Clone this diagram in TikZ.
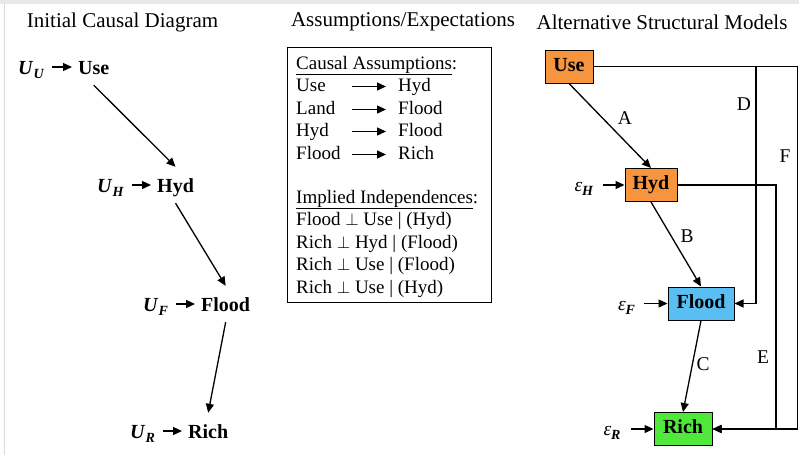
\documentclass[tikz,border=0pt]{standalone}
\usepackage{fontspec}
\setmainfont{Liberation Serif}
\usetikzlibrary{arrows.meta}
\newcommand{\Uv}[1]{\textbf{\textit{U}}\raisebox{-0.45ex}{\fontsize{14}{14}\selectfont\textbf{\textit{#1}}}}
\newcommand{\Ev}[1]{\textit{ε}\raisebox{-0.45ex}{\fontsize{14}{14}\selectfont\textbf{\textit{#1}}}}
\definecolor{orangeC}{RGB}{247,148,62}
\definecolor{blueC}{RGB}{90,190,242}
\definecolor{greenC}{RGB}{80,232,58}
\begin{document}
\begin{tikzpicture}[x=1pt,y=-1pt,
 arr/.style={line width=1.3pt,-{Triangle[length=9pt,width=8pt]}},
 ttl/.style={font=\fontsize{21}{24}\selectfont, inner sep=0},
 lbl/.style={font=\fontsize{20}{23}\selectfont\bfseries, inner sep=0, text height=25pt, text depth=11pt, anchor=west},
 txt/.style={font=\fontsize{19}{22}\selectfont, inner sep=0, anchor=west, text height=13pt, text depth=4pt},
 elbl/.style={font=\fontsize{19.5}{22}\selectfont, inner sep=0, text height=13pt, text depth=4pt},
 box/.style={draw, line width=1pt, font=\fontsize{20}{22}\selectfont\bfseries, minimum height=33pt, inner sep=0, text height=13pt, text depth=4pt},
]
\useasboundingbox (0,0) rectangle (799,455);
\fill[black!9] (0,0) rectangle (799,4);
\draw[black!15, line width=1pt] (4.5,4) -- (4.5,455);

% titles
\node[ttl] (t1) at (122.5,22) {Initial Causal Diagram};
\node[ttl] (t2) at (403,22) {Assumptions/Expectations};
\node[ttl] (t3) at (662,22) {Alternative Structural Models};

% left diagram
\node[lbl] (uu) at (18,67) {\Uv{U}};
\node[lbl] (use) at (78,67) {Use};
\node[lbl] (uh) at (97,185) {\Uv{H}};
\node[lbl] (hyd) at (157,185) {Hyd};
\node[lbl] (uf) at (143,304) {\Uv{F}};
\node[lbl] (flood) at (201,304) {Flood};
\node[lbl] (ur) at (130,431) {\Uv{R}};
\node[lbl] (rich) at (188,431) {Rich};
\foreach \a/\b in {uu/use,uh/hyd,uf/flood,ur/rich}
  \draw[arr, shorten <=8pt, shorten >=6pt] (\a.east) -- (\b.west);
\draw[arr] (use.south) -- (hyd.north);
\draw[arr] (hyd.south) -- (flood.north);
\draw[arr] (flood.south) -- (rich.north);

% middle box
\node[draw, line width=1pt, minimum width=204pt, minimum height=255pt, inner sep=0] (frame) at (389,174.5) {};
\node[txt] (h1) at (296,64.5) {\underline{Causal Assumptions}:};
\coordinate (ax) at (352,0);
\foreach \i/\y/\l/\r in {1/86.5/Use/Hyd, 2/109.5/Land/Flood, 3/131.5/Hyd/Flood, 4/154.5/Flood/Rich}{
  \node[txt] (l\i) at (296,\y) {\l};
  \node[txt] (r\i) at (398,\y) {\r};
  \draw[arr, shorten >=12pt] (r\i.west -| ax) -- (r\i.west);
}
\node[txt] (h2) at (296,198.5) {\underline{Implied Independences}:};
\node[txt] (i1) at (296,220.5) {Flood $\perp$ Use | (Hyd)};
\node[txt] (i2) at (296,243.5) {Rich $\perp$ Hyd | (Flood)};
\node[txt] (i3) at (296,265.5) {Rich $\perp$ Use | (Flood)};
\node[txt] (i4) at (296,288.5) {Rich $\perp$ Use | (Hyd)};

% right diagram
\node[box, fill=orangeC, minimum width=48pt] (use2) at (569,66.5) {Use};
\node[box, fill=orangeC, minimum width=52pt] (hyd2) at (651,185) {Hyd};
\node[box, fill=blueC, minimum width=66pt] (flood2) at (701,303.5) {Flood};
\node[box, fill=greenC, minimum width=58pt] (rich2) at (683,429) {Rich};

\node[elbl] (eh) at (584,187) {\Ev{H}};
\node[elbl] (ef) at (626.5,306) {\Ev{F}};
\node[elbl] (er) at (612,431) {\Ev{R}};
\draw[arr, shorten <=9pt] (hyd2.west -| eh.east) -- (hyd2.west);
\draw[arr, shorten <=9pt] (flood2.west -| ef.east) -- (flood2.west);
\draw[arr, shorten <=10pt] (rich2.west -| er.east) -- (rich2.west);

\draw[arr] (use2.south) -- (hyd2.north);
\draw[arr] (hyd2.south) -- (flood2.north);
\draw[arr] (flood2.south) -- (rich2.north);

\coordinate (dx) at (756,0);
\coordinate (ex) at (776,0);
\coordinate (fx) at (797.5,0);
\draw[arr] (use2.east) -- (use2.east -| dx) |- (flood2.east);
\draw[arr] (use2.east) -- (use2.east -| fx) |- (rich2.east);
\draw[arr] (hyd2.east) -- (hyd2.east -| ex) |- (rich2.east);

\node[elbl] (la) at (625,120) {A};
\node[elbl] (lb) at (687,238) {B};
\node[elbl] (lc) at (703,366) {C};
\node[elbl] (ld) at (744,106) {D};
\node[elbl] (le) at (763,359) {E};
\node[elbl] (lf) at (785,158) {F};
\end{tikzpicture}
\end{document}
